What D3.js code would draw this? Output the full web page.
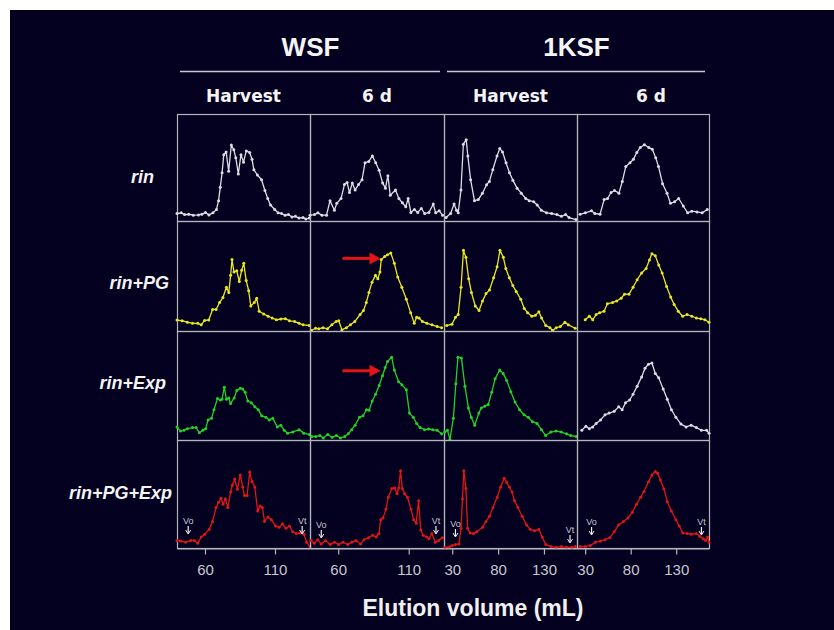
<!DOCTYPE html>
<html>
<head>
<meta charset="utf-8">
<script src="https://cdn.jsdelivr.net/npm/d3@7"></script>
<style>
  html, body { margin: 0; padding: 0; background: #ffffff; }
  svg { display: block; }
</style>
</head>
<body>
<div id="chart"></div>
<script>
/////////////////////////////////////////////////////////
// data: elution profiles, x = elution volume (mL), y = relative absorbance (%)
/////////////////////////////////////////////////////////
var fractions = ["WSF", "1KSF"]
var stages = ["Harvest", "6 d", "Harvest", "6 d"]
var genotypes = ["rin", "rin+PG", "rin+Exp", "rin+PG+Exp"]
var ticksWsf = [60, 110]
var ticks1ksf = [30, 80, 130]

var rinWsfHarvest = [[40,7],[43,7.6],[45.4,6],[48.4,6.3],[51.6,5.4],[55.3,5.7],[57.8,6.3],[60.3,8],[62.8,5.7],[65.7,7.6],[68.2,10.8],[69.7,19],[70.9,31.6],[72.2,45],[73.4,62],[75.1,64.6],[76.9,46.5],[78.8,71],[80.6,66.5],[82,59],[83.8,44],[85.7,62],[87.5,55],[89.5,65.5],[91.9,64],[93.6,57.6],[94.9,48],[97.4,43],[100.4,38.6],[102.8,28.5],[104.8,21],[106.8,15],[109.8,10.8],[112.2,7.6],[114.7,7],[117.2,5.4],[119.6,6],[122.1,3.8],[124.6,4.4],[127.1,2.8],[130,3.2],[132,1.9],[134.5,2.8]]
var rinWsf6d = [[40,5.4],[43.2,6],[45.6,7.6],[48.5,5.4],[51.7,5.4],[54.2,19],[57.3,10],[59,16.5],[62,21],[64.4,34],[66.3,36],[68,26.6],[70,35.4],[72,29],[74.4,34],[76.9,38.6],[79,54.4],[81.7,55.7],[84.2,60.8],[86.6,54.4],[89,47.5],[91.5,35.4],[93.5,30.7],[95.2,42.4],[96.9,24],[100.6,29],[103,21],[105.5,17],[107.9,13.3],[109.6,21],[111.5,8],[114,10.8],[116.4,8],[118.9,11.7],[121.3,7],[124.3,8],[127.4,15.8],[129.1,7.6],[131.6,9.5],[134,5.4]]
var rin1ksfHarvest = [[23.3,3.2],[28.2,7],[32,15.8],[34.6,10],[36.5,7.6],[39.5,29],[42.1,71.8],[45.2,76],[47,60.8],[50,38.6],[54.2,19],[58.4,20],[62.9,26],[67.4,33.9],[70.5,37],[74.2,48],[78.8,60.8],[81.8,67.7],[84.8,64.6],[88.6,54.4],[92.4,45],[96.1,38],[100.7,30.7],[105.2,26],[110.1,21],[113.9,19],[118.8,18],[122.6,15],[127.1,10],[132.8,7.6],[138.4,7],[144.1,6],[149,4.4],[153.5,6],[157.3,3.2],[164.9,1.3]]
var rin1ksf6d = [[24.4,6.3],[30.1,7.6],[36.9,9.5],[40.6,7],[46.3,6.3],[50.8,20],[54.6,21],[58.4,26.6],[62.2,28.5],[67.1,26],[70.8,37],[74.6,51],[79.2,54.4],[82.9,57.6],[86.7,64],[90.5,68.7],[95,71.2],[99.9,68.7],[103.7,67],[107.5,59],[110.5,51],[115,34.8],[119.9,26],[123.7,16.5],[128.2,18],[132.7,21],[137.7,14],[142.6,7.6],[147.1,9.2],[152.8,8.5],[158.5,7.6],[164.1,10.8]]

var pgWsfHarvest = [[40,10],[43.7,9.3],[47.4,8],[51.1,7],[54.8,7],[57.3,5.6],[59.7,9.6],[62.7,10],[65.4,19.6],[67.9,19.6],[70.4,25.8],[72.8,30.4],[75.3,39.8],[77,35],[78.3,50.6],[79.3,65],[80.7,53.7],[82.7,54.7],[84.5,45],[86.2,55.3],[87.7,61.5],[89.4,46],[91.2,36.6],[92.7,22.7],[95.2,25.8],[96.9,29.8],[98.7,18],[101.9,15.5],[105.1,13.4],[108,11.8],[111,10.2],[114.2,10.9],[117.4,11.2],[120.3,9.3],[124,8.7],[127.2,7],[130.1,5.6],[134.5,5]]
var pgWsf6d = [[41,0.5],[43.9,2.5],[46.3,2],[49.2,3],[52.4,2],[55.5,5.6],[58.5,8.7],[60.4,9.3],[62.6,1],[65.8,3],[68.7,5.6],[71.8,8.7],[75.5,15],[77.9,18.6],[79.9,25.8],[81.8,35],[84,44.4],[86.4,50.6],[88.1,47.5],[89.6,53.7],[90.5,65],[93,67.7],[94.9,69.3],[97.3,70.8],[99.8,61.5],[102.2,49],[105.1,39.8],[108.3,28.9],[111.4,16.5],[113.9,7],[115.6,12.4],[117.3,11.8],[119.7,8.7],[122.9,7],[126.5,5.6],[130.2,4],[133.3,3]]
var pg1ksfHarvest = [[24,5],[29.7,6.2],[33.5,12.4],[36.5,15],[39.6,39.8],[42.2,73.3],[44.9,67],[47.9,47.5],[50.9,35],[55.1,22.7],[59.2,18.6],[63,27.3],[66.8,34],[70.6,37.3],[75.1,48.4],[78.9,58.4],[82,73.3],[85.7,67],[88.4,56.8],[92.2,48.4],[96,41.3],[99.7,36],[104.7,28.9],[108.5,20.5],[112.2,16.5],[116.8,13.4],[120.6,14.3],[124.4,17.4],[127.4,11.8],[131.9,5],[136.5,3],[139.5,0.5],[143.3,3],[147.8,4],[152.8,8],[156.5,5.6],[164.1,2.5]]
var pg1ksf6d = [[30,10.2],[34.5,13.4],[38.3,10.2],[42,15],[45.8,16.5],[50.7,18],[54.4,24.8],[60.1,25.8],[64.6,27.3],[69.5,29.8],[73.2,33.5],[78.1,33.5],[82.6,39.8],[87.1,46.6],[92,52.8],[96.9,56.8],[100.6,64.6],[103.3,70.2],[107,68.3],[110.8,60],[114.5,52.8],[119.4,40.4],[123.9,31],[127.7,24.2],[132.2,18],[137.1,13.4],[141.9,15],[147.2,13.4],[152.1,11.8],[157,11.2],[161.5,10.2],[166,8]]

var expWsfHarvest = [[40,12],[42.5,8.2],[44.9,8.9],[47.4,10.4],[51.1,11.4],[53.6,11.4],[56,6.6],[58.5,8.9],[60.5,10.4],[62.2,18.4],[64.7,20],[66.4,27.8],[68.9,38],[70.9,36.7],[72.1,37.3],[73.8,48.4],[75.3,37.3],[77,38.6],[78.3,33.5],[80.8,38.6],[82.7,45.3],[85.2,47.5],[86.9,46.8],[88.7,43.7],[90.6,35.8],[93.1,34.2],[95.6,30.4],[98,27.8],[100.5,22.2],[103.5,20.9],[105.9,18.4],[108.4,20],[111.6,12],[114.1,13.6],[116.6,8.9],[119,6.3],[122.7,7.3],[127.2,9.5],[130.6,6.3],[134.6,5]]
var expWsf6d = [[41.2,3.2],[44.1,3.2],[47,4.1],[49.4,1.9],[52.6,5],[55.7,2.5],[58.7,4.1],[61.6,1.9],[64.7,3.2],[67.1,5.7],[69.6,9.5],[72,13.6],[75.1,20.9],[77.6,22.2],[80,27.8],[81.9,27.2],[84.1,35.8],[86.5,42],[89,50],[91.4,58.9],[93.3,66.5],[95,72],[97.9,76],[99.8,64.2],[102.8,53.5],[105.2,50.6],[108.3,46.2],[110.5,24.7],[113.2,20.9],[115.6,15.2],[118,11.4],[121.2,9.5],[124.1,10.1],[127,9.5],[130.1,8.9],[133.3,5.7]]
var exp1ksfHarvest = [[21.8,7.3],[24.8,8.9],[27.5,0.5],[31.2,20],[33.9,51.6],[36.2,76],[40,75.3],[43.8,49.4],[47.6,29.4],[50.7,20.9],[54.4,13.6],[59,24.7],[61.6,29.4],[65.4,31],[69.2,32.6],[73,43.7],[76.8,56.3],[81.7,64.2],[85.5,61.1],[89.3,54.7],[93.9,44.3],[98.4,34.8],[103.4,27.8],[108.3,23.1],[112.9,20.9],[117.4,16.8],[122.4,15.2],[127.3,9.5],[131.8,4.1],[137.5,7.3],[143.2,8.2],[148.9,7.3],[154.6,5.7],[159.2,4.1],[165.3,3.2]]
var exp1ksf6d = [[26.3,8.9],[30.8,12.7],[34.5,10.4],[38.3,12],[42,15.2],[46.9,18.4],[51.8,23.1],[56.3,24.7],[61.9,26.3],[66.8,30.4],[70.6,27.8],[74.3,34.2],[78.8,36.7],[82.6,42],[87.1,49.4],[92,57.9],[95.7,65.8],[99.5,69.6],[103.3,70.6],[107,61],[110.8,57],[115.7,46.8],[120.2,37.3],[124.7,27.8],[129.6,20.9],[135.2,14.6],[140.8,12],[146.4,13.6],[152.1,11.4],[157.7,8.9],[163.4,8.9],[166,6.3]]

var pgExpWsfHarvest = [[40,7],[42.5,6.4],[46.2,5.4],[49.9,7],[52.4,7],[54.8,4.5],[57.3,10.2],[59.8,12.8],[63,17.3],[65.4,24.6],[67.9,37.4],[69.6,42.2],[71.4,46],[72.9,40.6],[74.6,45.7],[76.3,37.4],[78.3,51.8],[79.5,58.1],[81.2,63.9],[83.2,54.3],[85.2,67.7],[86.9,56.5],[88.2,48.6],[90.1,48.6],[91.9,70.3],[93.6,61.3],[95.6,56.5],[97.6,34.2],[99.3,39],[101,37.4],[102.5,24.6],[105,28.8],[107.4,26.2],[110.4,20.4],[112.9,19.2],[115.3,22.4],[117.8,18.2],[120.3,20.4],[122.7,15],[125.2,13.4],[127.7,14],[130.6,12.8],[132.6,5.4],[135,1.3]]
var pgExpWsf6d = [[40.7,7],[43,4.5],[45.4,7.7],[47.9,3.8],[51.1,7],[54.3,3.2],[57.3,5.4],[60.2,3.2],[63.4,5.4],[66.7,3.2],[69.6,5.4],[72.6,7],[75.8,3.8],[78.3,7.7],[81.5,9.6],[84.4,11.8],[86.9,10.2],[88.9,13.4],[90.1,26.2],[91.8,27.8],[93.8,35.8],[95.5,47],[98,55],[100,55.6],[101.7,50.2],[102.9,55.6],[104.2,71.6],[105.4,55],[107.1,50.2],[109.1,47],[111.6,35.8],[113.5,26.2],[115.3,23],[117,43.8],[118.5,16.6],[120.2,11.8],[122.7,10.2],[124.4,8.6],[126.4,13.4],[128.8,5.4],[131.3,7],[133.8,9.6]]
var pgExp1ksfHarvest = [[22.1,0.5],[26,0.8],[29.7,2.2],[33.5,3.2],[37.3,3.8],[39.6,18.2],[41.1,45.4],[42.6,71.6],[44.9,55],[46.7,18.2],[49.4,14],[53.2,13.4],[56.8,15],[63,19.2],[66.8,24.6],[70.6,29.4],[74.4,37.4],[78.9,47],[82.7,56.5],[86.5,64.5],[89.5,60.7],[92.2,56.5],[95.2,51.8],[97.9,43.8],[101.6,37.4],[106.2,29.4],[111.1,21.4],[114.9,17.3],[119.8,16],[124.4,17.3],[128.1,10.2],[131.9,3.2],[137.6,1.3],[143.3,0.6],[149,1.3],[154.6,0.6],[160.3,0.5],[164.1,1.3]]
var pgExp1ksf6d = [[24.4,1.3],[30,1.3],[35.6,2.2],[41.3,5.4],[46.9,6.4],[51.8,7.7],[57.1,9.6],[61.9,15],[66.8,21.4],[72.1,24.6],[77,27.8],[81.8,33.2],[86.4,40.6],[90.9,47],[94.6,52.4],[99.5,61.3],[103.3,67.7],[107,70.9],[109.6,69.3],[112.6,62.9],[116.4,54.9],[120.2,42.8],[124.7,34.2],[129.6,26.2],[133.3,20.4],[137.1,14],[141.9,13.4],[146.4,12.8],[152.1,13.4],[155.8,10.9],[159.6,8.6],[162.2,7],[164.5,10.2],[166,5.4]]

// void (Vo) and total (Vt) volume markers on the bottom row, per column
var voVolumes = [48, 48, 33.5, 37]
var vtVolumes = [129.4, 129.3, 158.4, 157.7]

// red arrows: column 2, rows 2 and 3 (from volume, to volume, level %)
var arrowMarks = [
  {row: 1, col: 1, x0: 63, x1: 90, y: 66},
  {row: 2, col: 1, x0: 63, x1: 90, y: 63.5}
]

var profiles = [
  [rinWsfHarvest, rinWsf6d, rin1ksfHarvest, rin1ksf6d],
  [pgWsfHarvest, pgWsf6d, pg1ksfHarvest, pg1ksf6d],
  [expWsfHarvest, expWsf6d, exp1ksfHarvest, exp1ksf6d],
  [pgExpWsfHarvest, pgExpWsf6d, pgExp1ksfHarvest, pgExp1ksf6d]
]

/////////////////////////////////////////////////////////
// layout
/////////////////////////////////////////////////////////
var W = 834, H = 630
var colEdges = [177, 310, 444, 577, 709]
var rowEdges = [114, 221, 331, 440, 548]
var colDomains = [[40, 135], [40, 135], [21, 166], [21, 166]]
var colTicks = [ticksWsf, ticksWsf, ticks1ksf, ticks1ksf]
var labelRight = [154, 169, 166, 172]
var labelY = [177, 283, 383, 493]

var white = "#dcdce4", yellow = "#e8e81c", green = "#22d422", red = "#e01616"
var colours = [
  [white, white, white, white],
  [yellow, yellow, yellow, yellow],
  [green, green, green, white],
  [red, red, red, red]
]
var borderColour = "#b4b4bc"
var sans = "'Liberation Sans', Arial, sans-serif"

var svg = d3.select("#chart").append("svg")
    .attr("width", W)
    .attr("height", H)

svg.append("rect")
    .attr("x", 10).attr("y", 10)
    .attr("width", W - 10).attr("height", H - 10)
    .attr("fill", "#030020")

// x scales per column, y scale per row
var xs = colDomains.map(function(dom, i) {
  return d3.scaleLinear().domain(dom).range([colEdges[i], colEdges[i + 1]])
})
var ys = rowEdges.slice(0, 4).map(function(top, j) {
  return d3.scaleLinear().domain([0, 100]).range([rowEdges[j + 1], top])
})

/////////////////////////////////////////////////////////
// headers
/////////////////////////////////////////////////////////
fractions.forEach(function(f, i) {
  var x0 = colEdges[i * 2], x1 = colEdges[i * 2 + 2]
  svg.append("text")
      .attr("x", (x0 + x1) / 2)
      .attr("y", 56)
      .attr("text-anchor", "middle")
      .attr("fill", "#f4f4f4")
      .style("font-family", sans)
      .style("font-weight", "bold")
      .style("font-size", "26px")
      .text(f)
  svg.append("line")
      .attr("x1", x0 + 3).attr("x2", x1 - 4)
      .attr("y1", 71.5).attr("y2", 71.5)
      .attr("stroke", "#c8c8d0")
      .attr("stroke-width", 1.5)
})

stages.forEach(function(s, i) {
  svg.append("text")
      .attr("x", (colEdges[i] + colEdges[i + 1]) / 2 + (i == 3 ? 8 : 0))
      .attr("y", 102)
      .attr("text-anchor", "middle")
      .attr("fill", "#f4f4f4")
      .style("font-family", "'DejaVu Sans', Verdana, sans-serif")
      .style("font-weight", "bold")
      .style("font-size", "17px")
      .text(s)
})

genotypes.forEach(function(g, j) {
  svg.append("text")
      .attr("x", labelRight[j])
      .attr("y", labelY[j])
      .attr("dy", "0.35em")
      .attr("text-anchor", "end")
      .attr("fill", "#f4f4f4")
      .style("font-family", sans)
      .style("font-weight", "bold")
      .style("font-style", "italic")
      .style("font-size", "18px")
      .text(g)
})

/////////////////////////////////////////////////////////
// panels
/////////////////////////////////////////////////////////
profiles.forEach(function(rowData, j) {
  rowData.forEach(function(data, i) {
    var x = xs[i], y = ys[j]
    var g = svg.append("g")

    g.append("rect")
        .attr("x", colEdges[i] + 0.5)
        .attr("y", rowEdges[j] + 0.5)
        .attr("width", colEdges[i + 1] - colEdges[i])
        .attr("height", rowEdges[j + 1] - rowEdges[j])
        .attr("fill", "none")
        .attr("stroke", borderColour)
        .attr("stroke-width", 1.2)

    var line = d3.line()
        .x(function(d) { return x(d[0]) })
        .y(function(d) { return y(d[1]) })

    g.append("path")
        .datum(data)
        .attr("d", line)
        .attr("fill", "none")
        .attr("stroke", colours[j][i])
        .attr("stroke-width", 1.3)
        .attr("stroke-linejoin", "round")

    g.selectAll(".dot")
        .data(data)
      .enter().append("circle")
        .attr("class", "dot")
        .attr("cx", function(d) { return x(d[0]) })
        .attr("cy", function(d) { return y(d[1]) })
        .attr("r", 1.5)
        .attr("fill", colours[j][i])
  })
})

/////////////////////////////////////////////////////////
// Vo / Vt markers
/////////////////////////////////////////////////////////
function volumeMark (x, yTop, label) {
  svg.append("text")
      .attr("x", x)
      .attr("y", yTop)
      .attr("text-anchor", "middle")
      .attr("fill", "#c8c8d0")
      .style("font-family", sans)
      .style("font-size", "9px")
      .text(label)
  svg.append("line")
      .attr("x1", x).attr("x2", x)
      .attr("y1", yTop + 2).attr("y2", yTop + 9)
      .attr("stroke", "#f0f0f0")
      .attr("stroke-width", 1.2)
  svg.append("path")
      .attr("d", "M" + (x - 2.5) + "," + (yTop + 6) + "L" + x + "," + (yTop + 10) + "L" + (x + 2.5) + "," + (yTop + 6))
      .attr("fill", "none")
      .attr("stroke", "#f0f0f0")
      .attr("stroke-width", 1)
}
var voTop = [524, 528, 527, 525]
var vtTop = [524, 524, 533, 525]
voVolumes.forEach(function(v, i) { volumeMark(xs[i](v), voTop[i], "Vo") })
vtVolumes.forEach(function(v, i) { volumeMark(xs[i](v), vtTop[i], "Vt") })

/////////////////////////////////////////////////////////
// red arrows
/////////////////////////////////////////////////////////
arrowMarks.forEach(function(a) {
  var x0 = xs[a.col](a.x0), x1 = xs[a.col](a.x1), yy = ys[a.row](a.y)
  svg.append("line")
      .attr("x1", x0).attr("x2", x1 - 8)
      .attr("y1", yy).attr("y2", yy)
      .attr("stroke", "#e41414")
      .attr("stroke-width", 3)
  svg.append("path")
      .attr("d", "M" + (x1 - 11) + "," + (yy - 6) + "L" + x1 + "," + yy + "L" + (x1 - 11) + "," + (yy + 6) + "Z")
      .attr("fill", "#e41414")
})

/////////////////////////////////////////////////////////
// bottom axes
/////////////////////////////////////////////////////////
xs.forEach(function(x, i) {
  var ax = svg.append("g")
      .attr("transform", "translate(0," + (rowEdges[4] + 0.5) + ")")
      .call(d3.axisBottom(x).tickValues(colTicks[i]).tickSize(6).tickPadding(10).tickSizeOuter(0))
  ax.select(".domain").attr("stroke", borderColour).attr("stroke-width", 1.2)
  ax.selectAll(".tick line").attr("stroke", borderColour).attr("stroke-width", 1.2)
  ax.selectAll(".tick text")
      .attr("fill", "#c8c8d0")
      .style("font-family", sans)
      .style("font-size", "15px")
})

svg.append("text")
    .attr("x", 473)
    .attr("y", 616)
    .attr("text-anchor", "middle")
    .attr("fill", "#f0f0f0")
    .style("font-family", sans)
    .style("font-weight", "bold")
    .style("font-size", "23px")
    .text("Elution volume (mL)")
</script>
</body>
</html>
